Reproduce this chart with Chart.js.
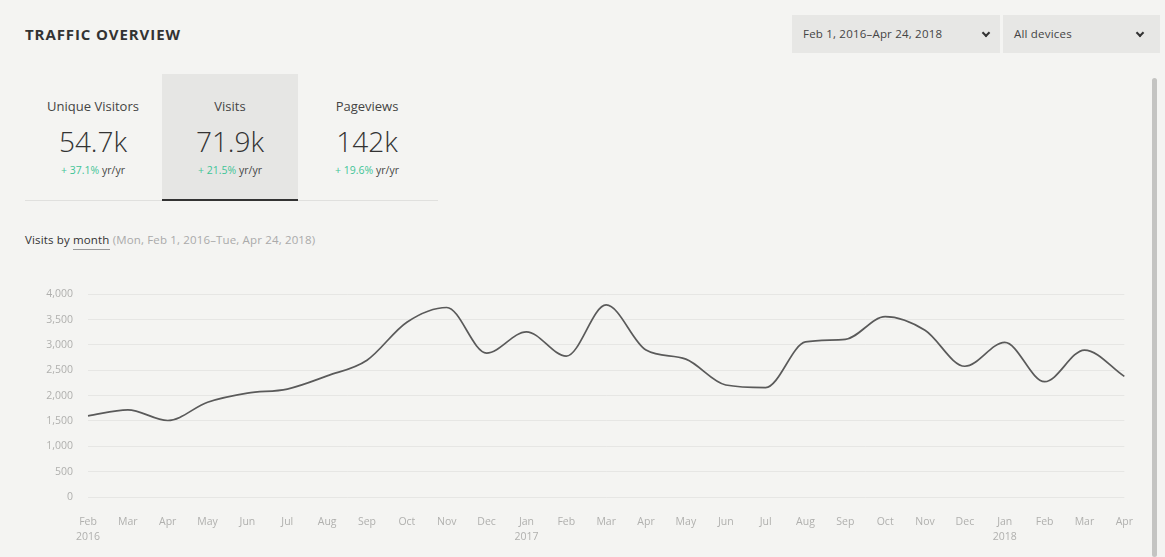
<!DOCTYPE html>
<html>
<head>
<meta charset="utf-8">
<script src="https://cdn.jsdelivr.net/npm/chart.js@4/dist/chart.umd.min.js"></script>
<style>
  body { margin: 0; width: 1165px; height: 557px; background: #f4f4f2; font-family: "Open Sans", sans-serif; position: relative; overflow: hidden; }
  .title { position: absolute; left: 25px; top: 24px; font-size: 15px; font-weight: 700; color: #333; letter-spacing: 0.9px; }
  .dd { position: absolute; top: 15px; height: 38px; background: #e7e7e5; font-size: 11.5px; color: #444; line-height: 38px; letter-spacing: 0.2px; }
  .dd span { position: absolute; left: 11px; }
  .chev { position: absolute; top: 15px; width: 4px; height: 4px; border-right: 2px solid #333; border-bottom: 2px solid #333; transform: rotate(45deg); }
  .scroll { position: absolute; left: 1152px; top: 78px; width: 5px; height: 479px; background: #c4c4c2; border-radius: 3px; }
  .tabs { position: absolute; left: 25px; top: 74px; width: 413px; height: 126px; border-bottom: 1px solid #e0e0de; }
  .tab { position: absolute; top: 0; width: 136px; height: 126px; text-align: center; }
  .tab.sel { background: #e6e6e4; border-bottom: 2px solid #333; height: 125px; }
  .tab .lbl { margin-top: 23px; font-size: 13px; color: #444; }
  .tab .num { margin-top: 9px; font-size: 28px; font-weight: 300; color: #333; line-height: 34px; }
  .tab .chg { margin-top: 5px; font-size: 10.5px; color: #444; }
  .tab .chg b { font-weight: 400; color: #3fc497; }
  .sub { position: absolute; left: 25px; top: 232px; font-size: 11.5px; color: #333; letter-spacing: 0.15px; }
  .sub u { text-decoration: none; border-bottom: 1px solid #999; padding-bottom: 2px; }
  .sub i { font-style: normal; color: #aaa; }
  #wrap { position: absolute; left: 20px; top: 273px; width: 1130px; height: 284px; }
</style>
</head>
<body>
<div class="title">TRAFFIC OVERVIEW</div>
<div class="dd" style="left:792px;width:208px;"><span>Feb 1, 2016–Apr 24, 2018</span><div class="chev" style="left:191px;"></div></div>
<div class="dd" style="left:1003px;width:157px;"><span>All devices</span><div class="chev" style="left:134px;"></div></div>
<div class="scroll"></div>

<div class="tabs">
  <div class="tab" style="left:0;"><div class="lbl">Unique Visitors</div><div class="num">54.7k</div><div class="chg"><b>+ 37.1%</b> yr/yr</div></div>
  <div class="tab sel" style="left:137px;"><div class="lbl">Visits</div><div class="num">71.9k</div><div class="chg"><b>+ 21.5%</b> yr/yr</div></div>
  <div class="tab" style="left:274px;"><div class="lbl">Pageviews</div><div class="num">142k</div><div class="chg"><b>+ 19.6%</b> yr/yr</div></div>
</div>

<div class="sub">Visits by <u>month</u> <i>(Mon, Feb 1, 2016–Tue, Apr 24, 2018)</i></div>

<div id="wrap"><canvas id="visitsChart"></canvas></div>

<script>
const months = ["Feb", "Mar", "Apr", "May", "Jun", "Jul", "Aug", "Sep", "Oct", "Nov", "Dec", "Jan",
  "Feb", "Mar", "Apr", "May", "Jun", "Jul", "Aug", "Sep", "Oct", "Nov", "Dec", "Jan",
  "Feb", "Mar", "Apr"];
const years = ["2016", "", "", "", "", "", "", "", "", "", "", "2017",
  "", "", "", "", "", "", "", "", "", "", "", "2018",
  "", "", ""];
const visits = [1600, 1720, 1510, 1870, 2050, 2130, 2390, 2700, 3450, 3740, 2840, 3260,
  2780, 3790, 2900, 2720, 2210, 2160, 3060, 3110, 3560, 3290, 2580, 3050,
  2275, 2900, 2380];
const yTicks = [0, 500, 1000, 1500, 2000, 2500, 3000, 3500, 4000];

function renderChart() {
  const ctx = document.getElementById("visitsChart").getContext("2d");
  const labels = months.map((m, i) => years[i] ? [m, years[i]] : m);

  new Chart(ctx, {
    type: "line",
    data: {
      labels: labels,
      datasets: [{
        label: "Visits",
        data: visits,
        borderColor: "#5a5a5a",
        borderWidth: 1.7,
        pointRadius: 0,
        fill: false,
        cubicInterpolationMode: "monotone"
      }]
    },
    options: {
      responsive: true,
      maintainAspectRatio: false,
      animation: false,
      layout: { padding: { top: 7, right: 16, bottom: 0, left: 0 } },
      plugins: {
        legend: { display: false },
        tooltip: { enabled: false }
      },
      scales: {
        x: {
          grid: { display: false, drawTicks: false },
          border: { display: false },
          ticks: {
            color: "#b0b0ae",
            font: { family: "Open Sans", size: 10.5, lineHeight: 1.45 },
            padding: 17,
            maxRotation: 0,
            autoSkip: false
          },
          afterFit: s => { s.height = 60; }
        },
        y: {
          min: 0,
          max: 4000,
          afterBuildTicks: s => { s.ticks = yTicks.map(v => ({ value: v })); },
          grid: { color: "#e6e6e4", drawTicks: false },
          border: { display: false },
          ticks: {
            color: "#b0b0ae",
            font: { family: "Open Sans", size: 10.5 },
            padding: 15
          },
          afterFit: s => { s.width = 68; }
        }
      }
    }
  });
}

window.onload = renderChart;
</script>
</body>
</html>
